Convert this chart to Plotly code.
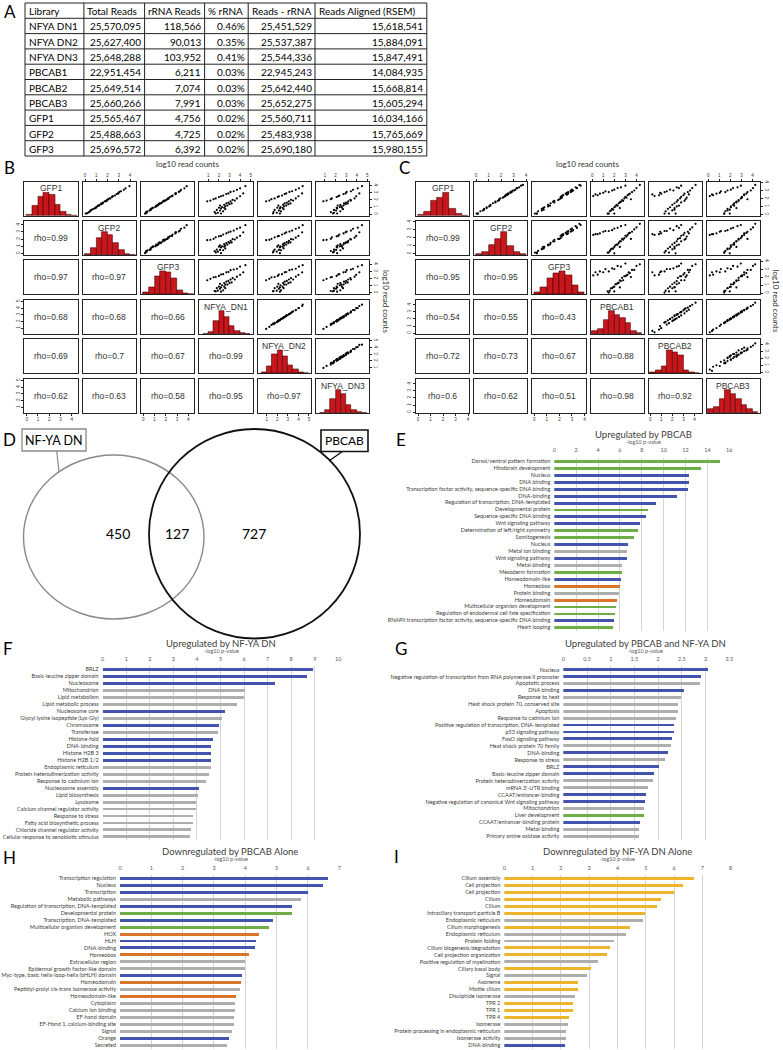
import plotly.graph_objects as go

W, H = 783, 1050
def fx(p): return p / W
def fy(p): return 1 - p / H

SANS = "Lato"
ARIAL = "Liberation Sans"

# ---------------- Panel A: library table ----------------
table_header = ["Library", "Total Reads", "rRNA Reads", "% rRNA", "Reads - rRNA", "Reads Aligned (RSEM)"]
libraries = ["NFYA DN1", "NFYA DN2", "NFYA DN3", "PBCAB1", "PBCAB2", "PBCAB3", "GFP1", "GFP2", "GFP3"]
total_reads = [25570095, 25627400, 25648288, 22951454, 25649514, 25660266, 25565467, 25488663, 25696572]
rrna_reads = [118566, 90013, 103952, 6211, 7074, 7991, 4756, 4725, 6392]
pct_rrna = [0.46, 0.35, 0.41, 0.03, 0.03, 0.03, 0.02, 0.02, 0.02]
reads_minus_rrna = [25451529, 25537387, 25544336, 22945243, 25642440, 25652275, 25560711, 25483938, 25690180]
reads_aligned = [15618541, 15884091, 15847491, 14084935, 15668814, 15605294, 16034166, 15765669, 15980155]

# ---------------- Panel B: pairs (GFP vs NFYA DN) ----------------
b_names = ["GFP1", "GFP2", "GFP3", "NFYA_DN1", "NFYA_DN2", "NFYA_DN3"]
b_gfp1 = [1.8,1.9,2.1,2.2,2.4,2.5,2.6,2.8,2.9,3.1,3.2,3.4,3.6,3.9,0.3,0.6,0.2,0.9,0.5,1.2,0.8,1.0,0.4,1.3,0.9,1.1,1.5,1.2,1.6,1.4,1.8,1.5,2.0,1.9,2.2,2.5,0.1,0.1,0.7,2.9]
b_gfp2 = [1.85,1.9,2.05,2.25,2.4,2.45,2.65,2.8,2.95,3.05,3.2,3.45,3.6,3.95,0.35,0.55,0.25,0.95,0.5,1.15,0.85,1.0,0.45,1.3,0.95,1.1,1.45,1.25,1.6,1.45,1.75,1.55,2.0,1.95,2.2,2.45,0.15,0.05,0.7,2.95]
b_gfp3 = [1.75,1.95,2.15,2.2,2.35,2.55,2.6,2.85,2.9,3.15,3.25,3.35,3.65,3.85,0.25,0.65,0.3,0.85,0.55,1.25,0.75,1.05,0.35,1.35,0.85,1.15,1.55,1.15,1.65,1.35,1.85,1.45,2.05,1.85,2.25,2.5,0.2,0.15,0.65,2.85]
b_dn1 = [0.9,1.2,1.5,1.7,2.0,2.2,2.4,2.7,2.9,3.1,3.4,3.7,4.0,4.5,1.6,1.8,1.9,2.0,2.1,2.1,2.2,2.3,2.4,2.5,2.5,2.6,2.7,2.8,2.9,3.0,3.1,3.2,3.3,3.5,3.7,4.0,1.7,2.2,2.6,4.3]
b_dn2 = [0.95,1.25,1.45,1.75,2.05,2.15,2.45,2.7,2.85,3.15,3.4,3.75,4.05,4.4,1.65,1.75,1.95,2.0,2.15,2.1,2.25,2.3,2.35,2.55,2.5,2.65,2.7,2.85,2.9,3.05,3.1,3.25,3.3,3.5,3.75,4.0,1.6,2.25,2.6,4.35]
b_dn3 = [0.85,1.15,1.55,1.65,2.1,2.25,2.35,2.75,2.95,3.05,3.45,3.65,4.1,4.5,1.55,1.85,1.85,2.1,2.05,2.2,2.15,2.4,2.45,2.45,2.6,2.55,2.8,2.75,3.0,2.95,3.2,3.15,3.4,3.45,3.8,3.95,1.75,2.15,2.7,4.25]
b_gfp_edges = [0, 0.5, 1, 1.5, 2, 2.5, 3, 3.5, 4, 4.5]
b_dn_edges = [0.5, 1, 1.5, 2, 2.5, 3, 3.5, 4, 4.5, 5]
b_hist_gfp1 = [4, 30, 56, 67, 62, 32, 12, 3, 1]
b_hist_gfp2 = [4, 22, 50, 67, 60, 36, 16, 4, 1]
b_hist_gfp3 = [6, 22, 52, 67, 64, 46, 12, 4, 1]
b_hist_dn1 = [1, 6, 36, 62, 46, 22, 8, 2, 1]
b_hist_dn2 = [2, 20, 56, 66, 50, 22, 12, 3, 1]
b_hist_dn3 = [1, 8, 40, 66, 54, 24, 10, 3, 1]
b_rho = {(1, 0): "0.99", (2, 0): "0.97", (2, 1): "0.97",
         (3, 0): "0.68", (3, 1): "0.68", (3, 2): "0.66",
         (4, 0): "0.69", (4, 1): "0.7", (4, 2): "0.67", (4, 3): "0.99",
         (5, 0): "0.62", (5, 1): "0.63", (5, 2): "0.58", (5, 3): "0.95", (5, 4): "0.97"}
b_gfp_range = [-0.21, 4.53]
b_dn_range = [0.15, 5.19]
b_gfp_ticks = [0, 1, 2, 3, 4]
b_dn_ticks = [1, 2, 3, 4, 5]

# ---------------- Panel C: pairs (GFP vs PBCAB) ----------------
c_names = ["GFP1", "GFP2", "GFP3", "PBCAB1", "PBCAB2", "PBCAB3"]
c_gfp1 = [2.3,2.5,2.4,2.6,2.7,2.9,2.8,3.0,3.1,3.3,3.4,3.6,0.1,0.4,0.5,0.7,0.6,0.9,1.0,1.2,1.1,1.4,1.5,1.6,1.8,1.7,2.0,2.2,2.1,2.4,2.5,2.6,2.8,3.0,3.3,3.7,0.1,0.8,0.1,1.9]
c_gfp2 = [2.35,2.45,2.45,2.55,2.75,2.85,2.85,2.95,3.15,3.25,3.45,3.6,0.15,0.35,0.55,0.65,0.65,0.85,1.05,1.15,1.15,1.35,1.55,1.55,1.85,1.75,1.95,2.25,2.15,2.35,2.55,2.6,2.75,3.05,3.3,3.75,0.05,0.85,0.15,1.85]
c_gfp3 = [2.2,2.6,2.3,2.7,2.6,3.0,2.7,3.1,3.0,3.4,3.3,3.7,0.2,0.3,0.6,0.6,0.75,0.8,1.1,1.1,1.25,1.3,1.6,1.5,1.9,1.6,2.1,2.1,2.2,2.3,2.6,2.5,2.9,2.9,3.4,3.6,0.2,0.7,0.05,2.0]
c_pb1 = [0.1,0.3,0.5,0.7,1.0,1.2,1.5,1.8,2.0,2.3,2.6,3.0,1.4,1.6,1.7,1.8,1.9,2.0,2.1,2.2,2.3,2.4,2.5,2.6,2.7,2.8,2.9,3.0,3.1,3.2,3.3,3.4,3.6,3.8,4.0,4.3,2.0,2.5,1.5,3.5]
c_pb2 = [0.4,0.2,0.8,1.0,0.9,1.5,1.3,2.1,1.8,2.6,2.4,2.8,1.7,1.4,2.0,1.6,2.2,1.8,2.4,2.0,2.6,2.2,2.8,2.4,2.5,3.1,2.7,2.8,3.3,3.0,3.5,3.1,3.4,3.6,3.8,4.1,2.3,2.2,1.3,3.2]
c_pb3 = [0.15,0.35,0.45,0.75,1.05,1.15,1.55,1.75,2.05,2.25,2.65,2.95,1.45,1.55,1.75,1.75,1.95,2.05,2.05,2.25,2.35,2.35,2.55,2.55,2.75,2.75,2.95,3.05,3.05,3.25,3.25,3.45,3.55,3.85,4.05,4.25,1.95,2.55,1.45,3.55]
c_gfp_edges = [0, 0.5, 1, 1.5, 2, 2.5, 3, 3.5, 4]
c_pb_edges = [0, 0.5, 1, 1.5, 2, 2.5, 3, 3.5, 4, 4.5]
c_hist_gfp1 = [3, 12, 45, 52, 67, 22, 6, 1]
c_hist_gfp2 = [4, 8, 30, 46, 67, 28, 8, 3]
c_hist_gfp3 = [5, 20, 46, 62, 67, 56, 28, 5]
c_hist_pb1 = [8, 16, 42, 67, 56, 46, 34, 8, 2]
c_hist_pb2 = [2, 8, 22, 67, 62, 54, 8, 3, 1]
c_hist_pb3 = [12, 18, 40, 67, 56, 40, 24, 12, 3]
c_rho = {(1, 0): "0.99", (2, 0): "0.95", (2, 1): "0.95",
         (3, 0): "0.54", (3, 1): "0.55", (3, 2): "0.43",
         (4, 0): "0.72", (4, 1): "0.73", (4, 2): "0.67", (4, 3): "0.88",
         (5, 0): "0.6", (5, 1): "0.62", (5, 2): "0.51", (5, 3): "0.98", (5, 4): "0.92"}
c_gfp_range = [-0.16, 4.1]
c_pb_range = [-0.13, 4.68]
c_ticks = [0, 1, 2, 3, 4]

# ---------------- Panel D: Venn ----------------
venn_labels = ["NF-YA DN", "PBCAB"]
venn_counts = [450, 127, 727]

# ---------------- Panels E-I: enrichment bars ----------------
e_terms = ["Dorsal/ventral pattern formation", "Hindbrain development", "Nucleus", "DNA binding",
           "Transcription factor activity, sequence-specific DNA binding", "DNA-binding",
           "Regulation of transcription, DNA-templated", "Developmental protein",
           "Sequence-specific DNA binding", "Wnt signaling pathway", "Determination of left/right symmetry",
           "Somitogenesis", "Nucleus", "Metal ion binding", "Wnt signaling pathway", "Metal-binding",
           "Mesoderm formation", "Homeodomain-like", "Homeobox", "Protein binding", "Homeodomain",
           "Multicellular organism development", "Regulation of endodermal cell fate specification",
           "RNAPII transcription factor activity, sequence-specific DNA binding", "Heart looping"]
e_values = [15.15, 13.4, 12.35, 12.3, 12.25, 11.2, 9.3, 8.6, 8.45, 7.85, 7.7, 7.3, 6.75, 6.7, 6.65,
            6.25, 6.25, 6.1, 6.0, 5.95, 5.8, 5.65, 5.6, 5.45, 5.4]
e_colors = ["G", "G", "B", "B", "B", "B", "B", "G", "B", "B", "G", "G", "B", "R", "B", "R", "G", "B",
            "O", "R", "O", "G", "G", "B", "G"]

f_terms = ["BRLZ", "Basic-leucine zipper domain", "Nucleosome", "Mitochondrion", "Lipid metabolism",
           "Lipid metabolic process", "Nucleosome core", "Glycyl lysine isopeptide (Lys-Gly)", "Chromosome",
           "Transferase", "Histone-fold", "DNA-binding", "Histone H2B 3", "Histone H2B 1/2",
           "Endoplasmic reticulum", "Protein heterodimerization activity", "Response to cadmium ion",
           "Nucleosome assembly", "Lipid biosynthesis", "Lysosome", "Calcium channel regulator activity",
           "Response to stress", "Fatty acid biosynthetic process", "Chloride channel regulator activity",
           "Cellular response to xenobiotic stimulus"]
f_values = [8.91, 8.66, 7.31, 6.04, 6.0, 5.69, 5.19, 5.06, 4.91, 4.87, 4.65, 4.58, 4.58, 4.58, 4.57,
            4.5, 4.37, 4.09, 4.05, 3.93, 3.93, 3.83, 3.8, 3.73, 3.69]
f_colors = ["B", "B", "B", "R", "R", "R", "B", "R", "B", "R", "B", "B", "B", "B", "R", "R", "R", "B",
            "R", "R", "R", "R", "R", "R", "R"]

g_terms = ["Nucleus", "Negative regulation of transcription from RNA polymerase II promoter",
           "Apoptotic process", "DNA binding", "Response to heat", "Heat shock protein 70, conserved site",
           "Apoptosis", "Response to cadmium ion", "Positive regulation of transcription, DNA-templated",
           "p53 signaling pathway", "FoxO signaling pathway", "Heat shock protein 70 family", "DNA-binding",
           "Response to stress", "BRLZ", "Basic-leucine zipper domain", "Protein heterodimerization activity",
           "mRNA 3'-UTR binding", "CCAAT/enhancer-binding",
           "Negative regulation of canonical Wnt signaling pathway", "Mitochondrion", "Liver development",
           "CCAAT/enhancer-binding protein", "Metal-binding", "Primary amine oxidase activity"]
g_values = [3.06, 2.9, 2.88, 2.56, 2.49, 2.43, 2.42, 2.38, 2.35, 2.34, 2.3, 2.28, 2.21, 2.16, 2.02,
            1.91, 1.9, 1.79, 1.76, 1.72, 1.71, 1.71, 1.62, 1.61, 1.6]
g_colors = ["B", "B", "R", "B", "R", "R", "R", "R", "B", "B", "B", "R", "B", "R", "B", "B", "R", "R",
            "B", "B", "R", "G", "B", "R", "R"]

h_terms = ["Transcription regulation", "Nucleus", "Transcription", "Metabolic pathways",
           "Regulation of transcription, DNA-templated", "Developmental protein", "Transcription, DNA-templated",
           "Multicellular organism development", "HOX", "HLH", "DNA-binding", "Homeobox",
           "Extracellular region", "Epidermal growth factor-like domain",
           "Myc-type, basic helix-loop-helix (bHLH) domain", "Homeodomain",
           "Peptidyl-prolyl cis-trans isomerase activity", "Homeodomain-like", "Cytoplasm",
           "Calcium ion binding", "EF-hand domain", "EF-Hand 1, calcium-binding site", "Signal", "Orange",
           "Secreted"]
h_values = [6.65, 6.47, 6.01, 5.78, 5.48, 5.49, 4.89, 4.74, 4.43, 4.33, 4.31, 4.11, 3.99, 3.98, 3.89,
            3.86, 3.84, 3.69, 3.67, 3.67, 3.64, 3.64, 3.56, 3.49, 3.41]
h_colors = ["B", "B", "B", "R", "B", "G", "B", "G", "O", "B", "B", "O", "R", "R", "B", "O", "R", "O",
            "R", "R", "R", "R", "R", "B", "R"]

i_terms = ["Cilium assembly", "Cell projection", "Cell projection", "Cilium", "Cilium",
           "Intraciliary transport particle B", "Endoplasmic reticulum", "Cilium morphogenesis",
           "Endoplasmic reticulum", "Protein folding", "Cilium biogenesis/degradation",
           "Cell projection organization", "Positive regulation of myelination", "Ciliary basal body",
           "Signal", "Axoneme", "Motile cilium", "Disulphide isomerase", "TPR 2", "TPR 1", "TPR 4",
           "Isomerase", "Protein processing in endoplasmic reticulum", "Isomerase activity", "DNA-binding"]
i_values = [6.7, 6.34, 6.0, 5.56, 5.41, 4.99, 4.92, 4.45, 4.3, 3.88, 3.76, 3.63, 3.31, 3.06, 2.93,
            2.61, 2.61, 2.5, 2.45, 2.45, 2.3, 2.27, 2.2, 2.2, 2.17]
i_colors = ["Y", "Y", "Y", "Y", "Y", "Y", "R", "Y", "R", "R", "Y", "Y", "R", "Y", "R", "Y", "Y", "R",
            "Y", "Y", "Y", "R", "R", "R", "B"]

PALETTE = {"B": "#4254AE", "G": "#6FAD47", "O": "#D9752B", "R": "#AEAEAE", "Y": "#ECB52A"}

# =====================================================================
fig = go.Figure()
layout_axes = {}
annotations = []
shapes = []
counter = [0]


def new_axes(xpx, ypx, xopts, yopts):
    counter[0] += 1
    k = counter[0]
    s = "" if k == 1 else str(k)
    layout_axes["xaxis" + s] = dict(domain=[fx(xpx[0]), fx(xpx[1])], anchor="y" + s, automargin=False, **xopts)
    layout_axes["yaxis" + s] = dict(domain=[fy(ypx[1]), fy(ypx[0])], anchor="x" + s, automargin=False, **yopts)
    return "x" + s, "y" + s


def text(x, y, s, size, family=SANS, color="black", xanchor="center", yanchor="middle", angle=0):
    annotations.append(dict(x=fx(x), y=fy(y), xref="paper", yref="paper", text=s, showarrow=False,
                            xanchor=xanchor, yanchor=yanchor, textangle=angle,
                            font=dict(size=size, family=family, color=color)))


def line(x0, y0, x1, y1, color="black", width=1.0):
    shapes.append(dict(type="line", xref="paper", yref="paper", x0=fx(x0), y0=fy(y0), x1=fx(x1),
                       y1=fy(y1), line=dict(color=color, width=width)))


# ---------------- Table ----------------
col_edges = [25, 83.9, 144.6, 204.6, 248.2, 315, 426.8]
row_top, row_h = 3, 15.3
rows = [table_header]
for k in range(len(libraries)):
    rows.append([libraries[k], f"{total_reads[k]:,}", f"{rrna_reads[k]:,}", f"{pct_rrna[k]:.2f}%",
                 f"{reads_minus_rrna[k]:,}", f"{reads_aligned[k]:,}"])
for ri, row in enumerate(rows):
    yc = row_top + row_h * (ri + 0.5) + 0.5
    for ci, val in enumerate(row):
        if ri == 0 or ci == 0:
            text(col_edges[ci] + 1.5, yc, val, 10, xanchor="left")
        else:
            text(col_edges[ci + 1] - 1.5, yc, val, 10, xanchor="right")
for ri in range(len(rows) + 1):
    line(col_edges[0], row_top + row_h * ri, col_edges[-1], row_top + row_h * ri, "#222", 1)
for xe in col_edges:
    line(xe, row_top, xe, row_top + row_h * len(rows), "#222", 1)

# ---------------- Pairs plots ----------------
pair_rows = [(181.7, 215.7), (221, 255), (260.3, 294.3), (300, 334), (339.3, 373.3), (379, 413)]
b_cols = [(24.3, 77.7), (82.7, 136), (141, 194.3), (199.3, 252.7), (257.7, 311), (316, 369.3)]
c_cols = [(416, 469.3), (474, 527.3), (532.3, 585.7), (590.7, 644), (648.7, 702), (706.7, 760)]

base_axis = dict(showgrid=False, zeroline=False, showline=True, mirror=True, linecolor="#222",
                 linewidth=0.8, ticks="", showticklabels=False, fixedrange=True)
tick_style = dict(showticklabels=True, ticks="outside", ticklen=2, tickwidth=0.6, tickcolor="#222",
                  tickfont=dict(size=4.5, family=ARIAL, color="#333"))


def pairs(names, data, ranges, ticks, edges, counts, rhos, cols):
    n = len(names)
    for i in range(n):
        for j in range(n):
            xo = dict(base_axis)
            yo = dict(base_axis)
            xo["range"] = ranges[j]
            if i == 0 and j in (1, 3, 5):
                xo.update(side="top", tickvals=ticks[j], tickangle=0, **tick_style)
            if i == n - 1 and j in (0, 2, 4):
                xo.update(side="bottom", tickvals=ticks[j], tickangle=0, **tick_style)
            if i == j:
                yo["range"] = [0, max(counts[i]) * 1.5]
            else:
                yo["range"] = ranges[i]
                if j == 0 and i in (1, 3, 5):
                    yo.update(side="left", tickvals=ticks[i], tickangle=-90, **tick_style)
                if j == n - 1 and i in (0, 2, 4):
                    yo.update(side="right", tickvals=ticks[i], tickangle=90, **tick_style)
            xa, ya = new_axes(cols[j], pair_rows[i], xo, yo)
            cx = (cols[j][0] + cols[j][1]) / 2
            cy = (pair_rows[i][0] + pair_rows[i][1]) / 2
            if i == j:
                e = edges[i]
                centers = [(e[b] + e[b + 1]) / 2 for b in range(len(e) - 1)]
                fig.add_trace(go.Bar(x=centers, y=counts[i], width=e[1] - e[0], xaxis=xa, yaxis=ya,
                                     marker=dict(color="#C8161D", line=dict(color="#4a0505", width=0.6)),
                                     showlegend=False, hoverinfo="skip"))
                text(cx, pair_rows[i][0] + 6.5, names[i], 8.5, ARIAL, "#333")
            elif j > i:
                fig.add_trace(go.Scatter(x=data[j], y=data[i], mode="markers", xaxis=xa, yaxis=ya,
                                         marker=dict(size=2.2, color="black"), showlegend=False,
                                         hoverinfo="skip"))
            else:
                # empty trace so that the panel frame is drawn
                fig.add_trace(go.Scatter(x=[None], y=[None], mode="markers", xaxis=xa, yaxis=ya,
                                         showlegend=False, hoverinfo="skip"))
                text(cx, cy, "rho=" + rhos[(i, j)], 8.5, ARIAL, "#333")


pairs(b_names, [b_gfp1, b_gfp2, b_gfp3, b_dn1, b_dn2, b_dn3],
      [b_gfp_range] * 3 + [b_dn_range] * 3, [b_gfp_ticks] * 3 + [b_dn_ticks] * 3,
      [b_gfp_edges] * 3 + [b_dn_edges] * 3,
      [b_hist_gfp1, b_hist_gfp2, b_hist_gfp3, b_hist_dn1, b_hist_dn2, b_hist_dn3], b_rho, b_cols)
pairs(c_names, [c_gfp1, c_gfp2, c_gfp3, c_pb1, c_pb2, c_pb3],
      [c_gfp_range] * 3 + [c_pb_range] * 3, [c_ticks] * 6,
      [c_gfp_edges] * 3 + [c_pb_edges] * 3,
      [c_hist_gfp1, c_hist_gfp2, c_hist_gfp3, c_hist_pb1, c_hist_pb2, c_hist_pb3], c_rho, c_cols)

text(187, 164, "log10 read counts", 8, SANS, "#333")
text(587, 164, "log10 read counts", 8, SANS, "#333")
text(386, 301, "log10 read counts", 8, SANS, "#333", angle=90)
text(775.5, 301, "log10 read counts", 8, SANS, "#333", angle=90)

# ---------------- Venn ----------------
shapes.append(dict(type="circle", xref="paper", yref="paper", x0=fx(23.5), x1=fx(204), y0=fy(619),
                   y1=fy(455), line=dict(color="#8a8a8a", width=1.4)))
shapes.append(dict(type="circle", xref="paper", yref="paper", x0=fx(149), x1=fx(360), y0=fy(638.5),
                   y1=fy(429), line=dict(color="#111", width=1.8)))
line(56.7, 451, 59, 471.7, "#8a8a8a", 1.2)
line(343, 451, 329, 461, "#111", 1.4)
shapes.append(dict(type="rect", xref="paper", yref="paper", x0=fx(22), x1=fx(86), y0=fy(451), y1=fy(429),
                   line=dict(color="#8a8a8a", width=1.3), fillcolor="white"))
shapes.append(dict(type="rect", xref="paper", yref="paper", x0=fx(321), x1=fx(368), y0=fy(451.5),
                   y1=fy(430), line=dict(color="#111", width=1.6), fillcolor="white"))
text(54, 440.5, venn_labels[0], 12.5)
text(344.5, 441, venn_labels[1], 12)
text(118, 533, str(venn_counts[0]), 14)
text(177, 533, str(venn_counts[1]), 14)
text(254, 533, str(venn_counts[2]), 14)


# ---------------- Bar charts ----------------
def barchart(terms, values, colors, xmax, dtick, xpx, ypx, title, tx, ty):
    n = len(terms)
    xo = dict(range=[0, xmax * 1.004], side="top", dtick=dtick, tick0=0, showgrid=True,
              gridcolor="#D4D4D4", gridwidth=1.3, zeroline=False, showline=False, ticks="", tickangle=0,
              tickfont=dict(size=5.5, family=SANS, color="#595959"), ticklabelstandoff=3, fixedrange=True)
    yo = dict(range=[n - 0.5, -0.5], tickvals=list(range(n)), ticktext=terms, showgrid=False,
              zeroline=False, showline=False, ticks="",
              tickfont=dict(size=5.5, family=SANS, color="#404040"), ticklabelstandoff=3, fixedrange=True)
    x1 = xpx[0] + (xpx[1] - xpx[0]) * 1.004
    xa, ya = new_axes((xpx[0], x1), ypx, xo, yo)
    fig.add_trace(go.Bar(x=values, y=list(range(n)), orientation="h", width=0.42, xaxis=xa, yaxis=ya,
                         marker=dict(color=[PALETTE[c] for c in colors], line=dict(width=0)),
                         showlegend=False, hoverinfo="skip"))
    text(tx, ty, title, 9.5, SANS, "#404040")
    text(tx, ty + 8, "-log10 p-value", 5.5, SANS, "#595959")


barchart(e_terms, e_values, e_colors, 16, 2, (554.3, 729.3), (457.5, 630.8), "Upregulated by PBCAB", 643, 434)
barchart(f_terms, f_values, f_colors, 10, 1, (102.7, 338.3), (665.8, 840.2), "Upregulated by NF-YA DN", 221, 643)
barchart(g_terms, g_values, g_colors, 3.5, 0.5, (563.3, 729.3), (666.2, 839.8),
         "Upregulated by PBCAB and NF-YA DN", 645.7, 643)
barchart(h_terms, h_values, h_colors, 7, 1, (120, 339.3), (874.8, 1048.5), "Downregulated by PBCAB Alone", 230, 851)
barchart(i_terms, i_values, i_colors, 8, 1, (504.3, 730.7), (874.8, 1048.5), "Downregulated by NF-YA DN Alone",
         617.7, 851)

# ---------------- Panel letters ----------------
for letter, (lx, ly) in {"A": (10, 11), "B": (9, 167), "C": (404, 167), "D": (9, 439), "E": (401, 439),
                         "F": (8, 648), "G": (401, 648), "H": (9, 857), "I": (396, 856)}.items():
    text(lx, ly, letter, 17, SANS, "black")

fig.update_layout(width=W, height=H, margin=dict(l=0, r=0, t=0, b=0, pad=0, autoexpand=False),
                  paper_bgcolor="white", plot_bgcolor="white", showlegend=False, annotations=annotations,
                  shapes=shapes, bargap=0, **layout_axes)
fig.write_html("out.html", config={"displayModeBar": False},
               post_script="document.body.style.margin='0px';document.body.style.overflow='hidden';")
